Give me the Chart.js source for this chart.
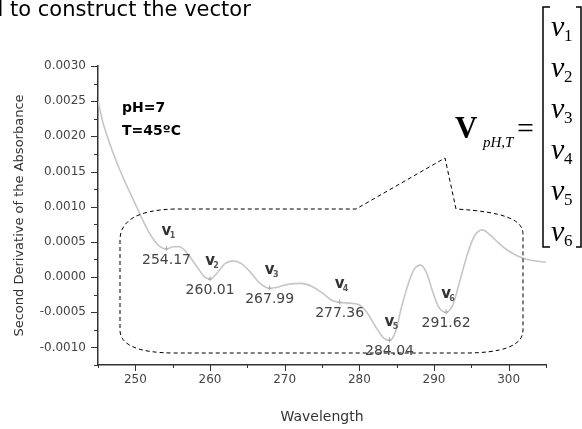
<!DOCTYPE html>
<html>
<head>
<meta charset="utf-8">
<script src="https://cdn.jsdelivr.net/npm/chart.js@4.4.1/dist/chart.umd.min.js"></script>
<style>
  html, body { margin: 0; padding: 0; background: #fff; }
  #wrap { width: 582px; height: 429px; position: relative; }
</style>
</head>
<body>
<div id="wrap"><canvas id="spectrumChart" width="582" height="429"></canvas></div>
<script>
// second derivative of the absorbance spectrum (pH=7, T=45ºC)
const wavelength = [
  245, 245.6, 246.5, 247.4, 248.5, 249.6, 250.6, 251.5, 252.4, 253.2,
  254.17, 255.1, 255.9, 257.0, 258.3, 259.2, 260.01, 260.9, 262.0, 263.1,
  264.2, 265.4, 266.7, 267.99, 269.2, 270.6, 272.2, 273.6, 275.2, 276.3,
  277.36, 278.6, 279.9, 281.0, 282.2, 283.2, 284.04, 284.8, 285.6, 286.6,
  287.4, 288.2, 289.0, 289.8, 290.6, 291.62, 292.5, 293.4, 294.4, 295.4,
  296.5, 297.5, 298.7, 300.0, 301.2, 302.5, 305
];
const secondDeriv = [
  0.00250, 0.00222, 0.00192, 0.00166, 0.00138, 0.00113, 0.00090, 0.00070, 0.00054, 0.00044,
  0.00040, 0.00043, 0.00043, 0.00033, 0.00014, 0.00001, -0.00003, 0.00005, 0.00019, 0.00023,
  0.00019, 0.00007, -0.00009, -0.00016, -0.00014, -0.00010, -0.00009, -0.00013, -0.00024, -0.00033,
  -0.00036, -0.00037, -0.00039, -0.00050, -0.00071, -0.00086, -0.00090, -0.00079, -0.00045, -0.00008,
  0.00012, 0.00017, 0.00006, -0.00020, -0.00042, -0.00050, -0.00040, -0.00008, 0.00030, 0.00058,
  0.00067, 0.00060, 0.00048, 0.00037, 0.00030, 0.00025, 0.00021
];

// minima used as the vector components v1..v6
const minimaWavelength = [254.17, 260.01, 267.99, 277.36, 284.04, 291.62];
const minimaNames = ['1', '2', '3', '4', '5', '6'];

// axis ticks
const xMajorTicks = [250, 260, 270, 280, 290, 300];
const xMinorTicks = [245, 255, 265, 275, 285, 295, 305];
const yMajorTicks = [-0.0010, -0.0005, 0, 0.0005, 0.0010, 0.0015, 0.0020, 0.0025, 0.0030];
const yMinorTicks = [-0.00125, -0.00075, -0.00025, 0.00025, 0.00075, 0.00125, 0.00175, 0.00225, 0.00275];

const SANS = '"DejaVu Sans", sans-serif';
const SERIF = '"Liberation Serif", "DejaVu Serif", serif';

function strokeLine(ctx, x1, y1, x2, y2) {
  ctx.beginPath();
  ctx.moveTo(x1, y1);
  ctx.lineTo(x2, y2);
  ctx.stroke();
}

// tick marks, minima labels, callout and the vector definition
const annotations = {
  id: 'annotations',
  afterDraw(chart) {
    const { ctx, chartArea } = chart;
    const xs = chart.scales.x;
    const ys = chart.scales.y;
    ctx.save();

    // outward tick marks, long for major and short for minor
    ctx.strokeStyle = '#333';
    ctx.lineWidth = 1;
    yMajorTicks.concat(yMinorTicks).forEach((v) => {
      const py = Math.round(ys.getPixelForValue(v)) + 0.5;
      const len = yMajorTicks.includes(v) ? 7 : 4;
      strokeLine(ctx, chartArea.left - len, py, chartArea.left, py);
    });
    xMajorTicks.concat(xMinorTicks).forEach((v) => {
      const px = Math.round(xs.getPixelForValue(v)) + 0.5;
      const len = xMajorTicks.includes(v) ? 6 : 3;
      strokeLine(ctx, px, chartArea.bottom, px, chartArea.bottom + len);
    });

    // minima: small marker, v_i name above, wavelength below
    minimaWavelength.forEach((w, i) => {
      const val = secondDeriv[wavelength.indexOf(w)];
      const px = xs.getPixelForValue(w);
      const py = ys.getPixelForValue(val);

      ctx.strokeStyle = '#aaa';
      ctx.lineWidth = 1;
      strokeLine(ctx, px, py - 3, px, py + 2);
      strokeLine(ctx, px - 2, py, px + 2, py);

      ctx.fillStyle = '#333';
      ctx.textAlign = 'center';
      ctx.textBaseline = 'middle';
      ctx.font = 'bold 15px ' + SANS;
      ctx.fillText('v', px, py - 18);
      ctx.fillStyle = '#555';
      ctx.font = 'bold 8px ' + SANS;
      ctx.fillText(minimaNames[i], px + 6, py - 13);

      ctx.fillStyle = '#444';
      ctx.font = '14px ' + SANS;
      ctx.fillText(w.toFixed(2), px, py + 11);
    });

    // experiment conditions
    ctx.fillStyle = '#000';
    ctx.textAlign = 'left';
    ctx.textBaseline = 'alphabetic';
    ctx.font = 'bold 14px ' + SANS;
    ctx.fillText('pH=7', 122, 112);
    ctx.fillText('T=45ºC', 122, 135);

    // dashed callout around the minima
    ctx.strokeStyle = '#000';
    ctx.lineWidth = 1;
    ctx.setLineDash([4, 3]);
    ctx.beginPath();
    ctx.moveTo(120, 240);
    ctx.lineTo(120, 330);
    ctx.bezierCurveTo(120, 345, 138, 353, 175, 353);
    ctx.lineTo(465, 353);
    ctx.bezierCurveTo(502, 353, 523, 346, 523, 330);
    ctx.lineTo(523, 234);
    ctx.bezierCurveTo(523, 220, 505, 212, 456, 209);
    ctx.lineTo(445, 158);
    ctx.lineTo(356, 209);
    ctx.lineTo(175, 209);
    ctx.bezierCurveTo(135, 210, 120, 222, 120, 240);
    ctx.stroke();
    ctx.setLineDash([]);

    // V_{pH,T} = [v1 ... v6]
    ctx.fillStyle = '#000';
    ctx.font = 'bold 31px ' + SERIF;
    ctx.fillText('V', 455, 138);
    ctx.font = 'italic 15px ' + SERIF;
    ctx.fillText('pH,T', 483, 147);
    ctx.font = '30px ' + SERIF;
    ctx.fillText('=', 517, 138);

    ctx.lineWidth = 1.5;
    ctx.beginPath();
    ctx.moveTo(550, 7);
    ctx.lineTo(543, 7);
    ctx.lineTo(543, 247);
    ctx.lineTo(550, 247);
    ctx.stroke();
    ctx.beginPath();
    ctx.moveTo(576, 7);
    ctx.lineTo(581, 7);
    ctx.lineTo(581, 247);
    ctx.lineTo(576, 247);
    ctx.stroke();

    minimaNames.forEach((n, i) => {
      const base = 36 + i * 41;
      ctx.font = 'italic 30px ' + SERIF;
      ctx.fillText('v', 551, base);
      ctx.font = '17px ' + SERIF;
      ctx.fillText(n, 564, base + 5);
    });

    // tail of the sentence above the figure
    ctx.font = '21px ' + SANS;
    const lead = ctx.measureText('d ').width;
    ctx.fillText('d to construct the vector', 10 - lead, 16);

    ctx.restore();
  }
};

new Chart(document.getElementById('spectrumChart'), {
  type: 'line',
  data: {
    datasets: [{
      label: 'Second derivative',
      data: wavelength.map((w, i) => ({ x: w, y: secondDeriv[i] })),
      borderColor: '#c6c6c6',
      borderWidth: 1.6,
      pointRadius: 0,
      fill: false,
      cubicInterpolationMode: 'monotone',
    }],
  },
  options: {
    responsive: false,
    animation: false,
    layout: { padding: { top: 66, right: 36, left: 0, bottom: 0 } },
    plugins: {
      legend: { display: false },
      tooltip: { enabled: false },
    },
    scales: {
      x: {
        type: 'linear',
        min: 245,
        max: 305,
        afterFit: (s) => { s.height = 64; },
        afterBuildTicks: (s) => {
          s.ticks = xMajorTicks.concat(xMinorTicks).sort((a, b) => a - b).map((v) => ({ value: v }));
        },
        grid: { display: false, drawTicks: false },
        border: { display: true, color: '#333', width: 1.5 },
        ticks: {
          autoSkip: false,
          maxRotation: 0,
          padding: 8,
          color: '#444',
          font: { family: SANS, size: 12 },
          callback: (v) => (xMajorTicks.includes(v) ? String(v) : ''),
        },
        title: {
          display: true,
          text: 'Wavelength',
          color: '#333',
          font: { family: SANS, size: 14 },
          padding: { top: 0, bottom: 3 },
        },
      },
      y: {
        min: -0.00125,
        max: 0.003,
        afterFit: (s) => { s.width = 98; },
        afterBuildTicks: (s) => {
          s.ticks = yMajorTicks.concat(yMinorTicks).sort((a, b) => a - b).map((v) => ({ value: v }));
        },
        grid: { display: false, drawTicks: false },
        border: { display: true, color: '#333', width: 1.5 },
        ticks: {
          autoSkip: false,
          padding: 12,
          color: '#444',
          font: { family: SANS, size: 12 },
          callback: (v) => (yMajorTicks.includes(v) ? v.toFixed(4) : ''),
        },
        title: {
          display: true,
          text: 'Second Derivative of the Absorbance',
          color: '#333',
          font: { family: SANS, size: 13 },
          padding: { top: 12, bottom: 0 },
        },
      },
    },
  },
  plugins: [annotations],
});
</script>
</body>
</html>
